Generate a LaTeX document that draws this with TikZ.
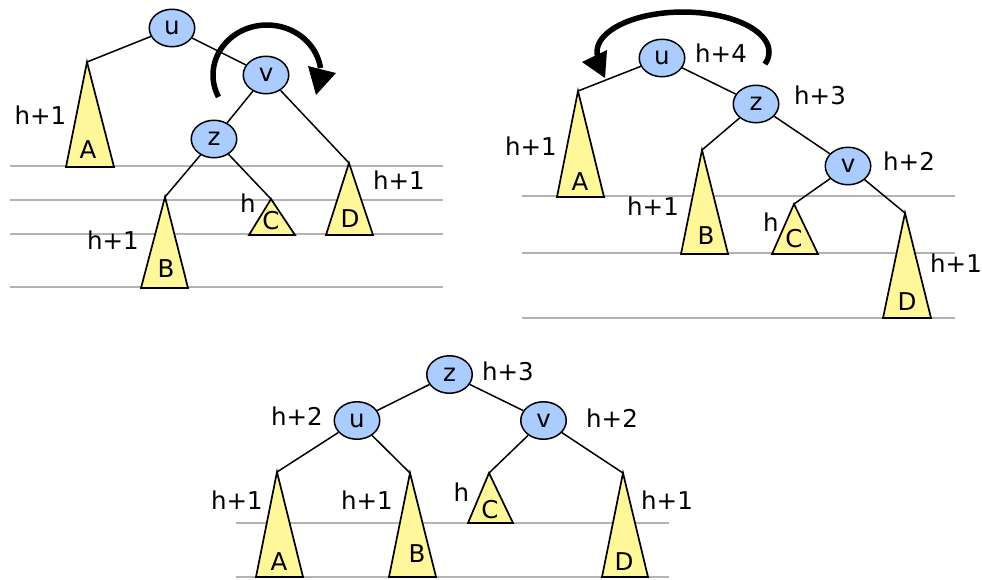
\documentclass[tikz,border=0pt]{standalone}
\usepackage{fontspec}
\setmainfont{DejaVu Sans}
\usetikzlibrary{shapes.geometric}
\definecolor{nodeblue}{HTML}{AACCFF}
\definecolor{treeyellow}{HTML}{FFF799}
\definecolor{guidegray}{HTML}{B3B3B3}
\tikzset{
 tnode/.style={ellipse, draw=black, line width=1.5pt, fill=nodeblue, minimum width=45.5pt, minimum height=37.5pt, inner sep=0pt, font=\fontsize{24.5}{28}\selectfont},
 lbl/.style={inner sep=0pt, font=\fontsize{24.5}{28}\selectfont},
 link/.style={draw=black, line width=1.5pt},
 tri/.style={draw=black, line width=1.7pt, fill=treeyellow, line join=miter},
 guide/.style={draw=guidegray, line width=2pt},
 rotarc/.style={draw=black, line width=5.5pt},
 rothead/.style={fill=black},
}
% name, apex x, apex y, left x, right x, base y, label, label x, label y
\newcommand{\avltri}[9]{%
  \draw[tri] (#1) -- (#4,#6) -- (#5,#6) -- cycle;
  \node[lbl] (#1lab) at (#8,#9) {#7};
}
\begin{document}
\begin{tikzpicture}[x=1pt,y=-1pt]
\useasboundingbox (0,0) rectangle (982,579);

% ---------------- guide lines ----------------
\foreach \yy in {166,200,234,287} \draw[guide] (10,\yy) -- (443,\yy);
\foreach \yy in {196,253,318} \draw[guide] (522,\yy) -- (955,\yy);
\foreach \yy in {523,577} \draw[guide] (236,\yy) -- (669,\yy);

% ---------------- panel 1 ----------------
\node[tnode] (u1) at (172,28) {u};
\node[tnode] (v1) at (266,75) {v};
\node[tnode] (z1) at (214,139) {z};
\coordinate (tA1) at (87,62);
\coordinate (tB1) at (165,197);
\coordinate (tC1) at (271,199);
\coordinate (tD1) at (349,163);
\draw[link] (u1) -- (tA1);
\draw[link] (u1) -- (v1);
\draw[link] (v1) -- (z1);
\draw[link] (v1) -- (tD1);
\draw[link] (z1) -- (tB1);
\draw[link] (z1) -- (tC1);
\avltri{tA1}{87}{62}{66}{114}{167}{A}{88}{150}
\avltri{tB1}{165}{197}{141}{188}{288}{B}{166}{269}
\avltri{tC1}{271}{199}{249}{295}{235}{C}{271}{221}
\avltri{tD1}{349}{163}{326}{373}{235}{D}{350}{219}
\node[lbl] (h1a) at (40.5,115.5) {h+1};
\node[lbl] (h1b) at (113,240) {h+1};
\node[lbl] (h1c) at (248,203.5) {h};
\node[lbl] (h1d) at (399,180) {h+1};
\draw[rotarc] plot[domain=8:206, samples=60] ({267+54*cos(\x)},{75-50*sin(\x)});
\fill[rothead] (308,66) -- (336,73) -- (316,95) -- cycle;

% ---------------- panel 2 ----------------
\node[tnode] (u2) at (662,58) {u};
\node[tnode] (z2) at (756,104) {z};
\node[tnode] (v2) at (848,166) {v};
\coordinate (tA2) at (578,91);
\coordinate (tB2) at (702,150);
\coordinate (tC2) at (794,204);
\coordinate (tD2) at (905,213);
\draw[link] (u2) -- (tA2);
\draw[link] (u2) -- (z2);
\draw[link] (z2) -- (tB2);
\draw[link] (z2) -- (v2);
\draw[link] (v2) -- (tC2);
\draw[link] (v2) -- (tD2);
\avltri{tA2}{578}{91}{557}{604}{197}{A}{580}{182}
\avltri{tB2}{702}{150}{681}{728}{254}{B}{706}{236}
\avltri{tC2}{794}{204}{772}{818}{254}{C}{794}{239}
\avltri{tD2}{905}{213}{883}{931}{318}{D}{907}{302}
\node[lbl] (h2u) at (721,53) {h+4};
\node[lbl] (h2z) at (820,95) {h+3};
\node[lbl] (h2v) at (909,161) {h+2};
\node[lbl] (h2a) at (531,146) {h+1};
\node[lbl] (h2b) at (653,206) {h+1};
\node[lbl] (h2c) at (771,222) {h};
\node[lbl] (h2d) at (956,263) {h+1};
\draw[rotarc] plot[domain=-17.6:185, samples=60] ({683+86*cos(\x)},{52-40*sin(\x)});
\fill[rothead] (582,62) -- (607,50) -- (605,78) -- cycle;

% ---------------- panel 3 ----------------
\node[tnode] (z3) at (449.5,374.5) {z};
\node[tnode] (u3) at (357,420.5) {u};
\node[tnode] (v3) at (543.5,420.5) {v};
\coordinate (tA3) at (277,472);
\coordinate (tB3) at (410,473);
\coordinate (tC3) at (489,473);
\coordinate (tD3) at (623,473);
\draw[link] (z3) -- (u3);
\draw[link] (z3) -- (v3);
\draw[link] (u3) -- (tA3);
\draw[link] (u3) -- (tB3);
\draw[link] (v3) -- (tC3);
\draw[link] (v3) -- (tD3);
\avltri{tA3}{277}{472}{256}{303}{577}{A}{279}{562}
\avltri{tB3}{410}{473}{389}{436}{577}{B}{417}{554}
\avltri{tC3}{489}{473}{468}{513}{523}{C}{490}{510}
\avltri{tD3}{623}{473}{602}{648}{577}{D}{624}{562}
\node[lbl] (h3z) at (508,371.5) {h+3};
\node[lbl] (h3u) at (297,416.5) {h+2};
\node[lbl] (h3v) at (612,418.5) {h+2};
\node[lbl] (h3a) at (237,500) {h+1};
\node[lbl] (h3b) at (367,500) {h+1};
\node[lbl] (h3c) at (461.5,492) {h};
\node[lbl] (h3d) at (667,500) {h+1};
\end{tikzpicture}
\end{document}
